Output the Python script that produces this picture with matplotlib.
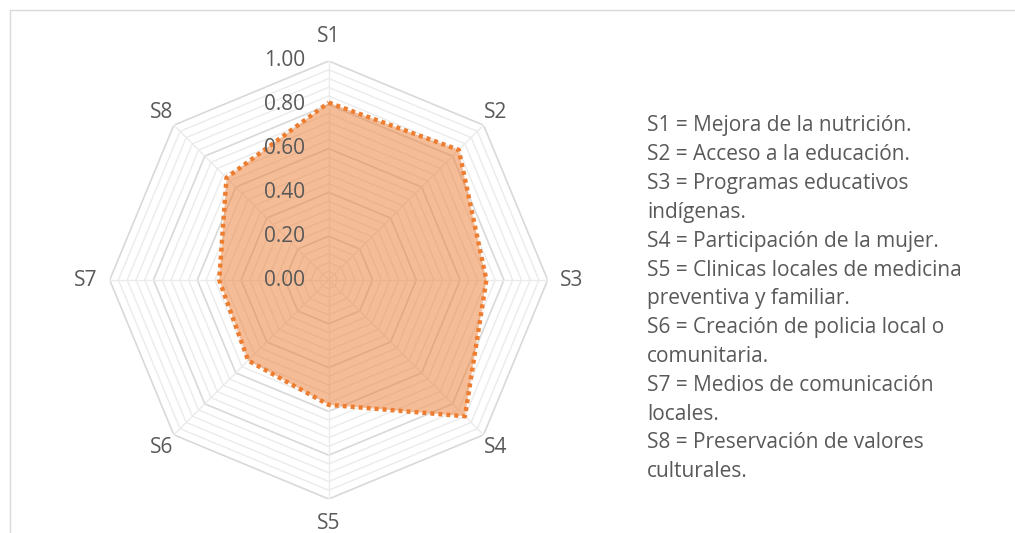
import numpy as np
import matplotlib.pyplot as plt
from matplotlib.patches import Rectangle
from matplotlib.transforms import offset_copy

plt.rcParams['font.family'] = ['Open Sans', 'DejaVu Sans']

# data
categories = ['S1', 'S2', 'S3', 'S4', 'S5', 'S6', 'S7', 'S8']
values = [0.81, 0.84, 0.72, 0.88, 0.57, 0.52, 0.50, 0.66]
tick_values = [0.0, 0.2, 0.4, 0.6, 0.8, 1.0]
tick_labels = ['0.00', '0.20', '0.40', '0.60', '0.80', '1.00']
legend_lines = [
    'S1 = Mejora de la nutrición.',
    'S2 = Acceso a la educación.',
    'S3 = Programas educativos',
    'indígenas.',
    'S4 = Participación de la mujer.',
    'S5 = Clinicas locales de medicina',
    'preventiva y familiar.',
    'S6 = Creación de policia local o',
    'comunitaria.',
    'S7 = Medios de comunicación',
    'locales.',
    'S8 = Preservación de valores',
    'culturales.',
]

W, H = 1015, 533
fig = plt.figure(figsize=(W / 100, H / 100), dpi=100)
fig.patches.append(Rectangle((10 / W, -0.1), 1.2, 1 - 10 / H + 0.1, transform=fig.transFigure,
                             fill=False, edgecolor='#D9D9D9', linewidth=1))

cx, cy, R = 328.7, 253.0, 219.0
ax = fig.add_axes([(cx - R) / W, (cy - R) / H, 2 * R / W, 2 * R / H], projection='polar')
ax.set_theta_offset(np.pi / 2)
ax.set_theta_direction(-1)
ax.set_ylim(0, 1)
ax.grid(False)
ax.spines['polar'].set_visible(False)
ax.set_xticks([])
ax.set_yticks([])
ax.patch.set_alpha(0)

n = len(categories)
angles = np.linspace(0, 2 * np.pi, n, endpoint=False)
closed = np.append(angles, angles[0])

# octagonal grid
for k in range(1, 26):
    r = k * 0.04
    major = k % 5 == 0
    ax.plot(closed, [r] * (n + 1), color='#D9D9D9' if major else '#EBEBEB',
            lw=1.2 if major else 1.0, zorder=1)
for a in angles:
    ax.plot([a, a], [0, 1], color='#EBEBEB', lw=1.0, zorder=1)

# series
vals = values + values[:1]
ax.fill(closed, vals, color='#ED7D31', alpha=0.5, lw=0, zorder=2)
ax.plot(closed, vals, color='#ED7D31', lw=3.2, linestyle=(0, (0.9, 0.9)), zorder=3)

# radial tick labels
off = offset_copy(ax.transData, fig=fig, x=-24, y=0, units='dots')
for v, lab in zip(tick_values, tick_labels):
    ax.text(0, v, lab, transform=off, ha='right', va='center', fontsize=15,
            color='#595959', zorder=4)

# category labels
for a, c in zip(angles, categories):
    r = 1.11 if round(a / (np.pi / 4)) % 2 == 0 else 1.08
    ax.text(a, r, c, ha='center', va='center', fontsize=15, color='#595959')

# text legend
y0 = 126
for i, line in enumerate(legend_lines):
    fig.text(647 / W, 1 - (y0 + i * 28.8) / H, line, ha='left', va='center',
             fontsize=15, color='#595959')

fig.savefig('out.png', dpi=100)
